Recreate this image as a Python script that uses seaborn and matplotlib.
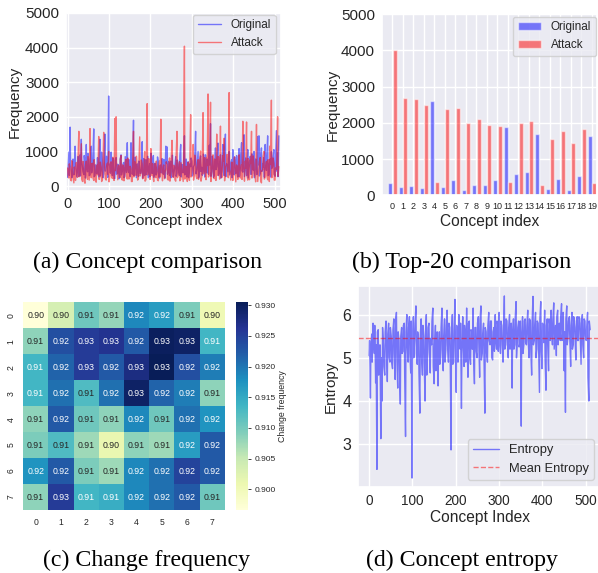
import matplotlib
matplotlib.use("Agg")
import matplotlib.pyplot as plt
import numpy as np
import pandas as pd
import seaborn as sns

# values, one entry for every third concept
original = [
    250, 980, 1700, 420, 300, 520, 1150, 380, 470, 280,
    900, 1350, 520, 330, 640, 1200, 410, 760, 320, 1150,
    560, 1650, 300, 480, 820, 260, 1350, 440, 630, 350,
    1500, 700, 380, 2600, 540, 980, 300, 470, 220, 820,
    360, 560, 240, 900, 430, 680, 280, 520, 1250, 390,
    620, 1250, 340, 1900, 600, 450, 640, 280, 520, 370,
    1280, 450, 300, 760, 520, 240, 650, 950, 360, 880,
    280, 540, 420, 700, 230, 610, 790, 340, 580, 1150,
    1130, 460, 300, 720, 560, 260, 490, 850, 370, 640,
    310, 1200, 620, 380, 1450, 500, 260, 700, 430, 560,
    720, 350, 610, 1580, 480, 1000, 300, 870, 540, 420,
    650, 900, 380, 560, 1180, 1800, 420, 720, 300, 1100,
    560, 1240, 360, 900, 470, 1200, 300, 1500, 640, 410,
    1000, 480, 760, 1050, 320, 620, 880, 260, 1080, 540,
    1250, 400, 1480, 620, 300, 1050, 520, 860, 340, 700,
    1000, 460, 590, 1430, 1450, 360, 1100, 640, 820, 1200,
    450, 1450, 320, 780, 1000, 560, 1050, 280, 1600, 950,
    1450,
]
# the concepts just after those above
original_next = [
    480, 310, 640, 240, 780, 330, 690, 260, 850, 520,
    290, 720, 410, 880, 230, 560, 940, 300, 670, 380,
    820, 270, 610, 350, 530, 760, 290, 980, 240, 700,
    430, 860, 250, 650, 370, 560, 810, 220, 740, 340,
    630, 210, 790, 320, 570, 240, 850, 390, 520, 760,
    270, 680, 440, 300, 830, 240, 590, 720, 360, 510,
    230, 790, 620, 330, 860, 410, 270, 540, 730, 250,
    660, 320, 840, 260, 590, 380, 500, 770, 230, 650,
    340, 710, 560, 240, 890, 310, 620, 280, 750, 430,
    870, 260, 530, 690, 320, 780, 450, 240, 640, 810,
    290, 560, 840, 350, 670, 230, 730, 420, 310, 920,
    260, 540, 780, 340, 610, 280, 860, 250, 690, 470,
    820, 300, 650, 230, 750, 410, 960, 270, 560, 790,
    320, 680, 240, 590, 840, 360, 510, 730, 280, 900,
    440, 650, 270, 810, 520, 230, 700, 340, 930, 460,
    240, 780, 330, 610, 290, 860, 420, 550, 250, 720,
    880, 300, 640, 260, 510, 830, 340, 690, 430, 270,
]
attack = [
    520, 230, 480, 150, 350, 90, 420, 680, 250, 1580,
    300, 1220, 130, 560, 80, 720, 190, 420, 1660, 240,
    660, 160, 470, 110, 620, 1430, 280, 540, 190, 1550,
    400, 170, 660, 1000, 310, 700, 220, 480, 1950, 2000,
    350, 600, 250, 880, 170, 540, 320, 770, 200, 620,
    290, 480, 130, 1580, 700, 310, 560, 220, 1420, 400,
    640, 230, 1000, 180, 2380, 520, 260, 1080, 300, 180,
    640, 240, 430, 150, 720, 1930, 300, 560, 210, 490,
    620, 170, 810, 430, 1320, 250, 560, 140, 1580, 300,
    700, 190, 460, 130, 4040, 520, 240, 690, 160, 2060,
    480, 1200, 350, 620, 210, 760, 430, 1010, 280, 2120,
    500, 240, 830, 2660, 320, 2420, 470, 900, 210, 650,
    1500, 310, 720, 1730, 240, 880, 1380, 420, 640, 300,
    2700, 280, 560, 160, 780, 340, 610, 190, 900, 230,
    620, 1870, 380, 720, 1850, 170, 490, 760, 1580, 300,
    620, 240, 1780, 130, 540, 820, 90, 470, 1000, 260,
    710, 180, 560, 1160, 2480, 330, 640, 170, 480, 2000,
    560,
]
attack_next = [
    310, 640, 180, 730, 260, 550, 160, 380, 820, 270,
    590, 200, 710, 140, 480, 330, 850, 170, 530, 640,
    240, 760, 150, 580, 320, 190, 690, 130, 470, 780,
    210, 560, 340, 120, 650, 270, 830, 160, 440, 710,
    180, 520, 770, 240, 610, 150, 690, 360, 810, 200,
    570, 130, 730, 260, 440, 860, 170, 620, 290, 750,
    210, 540, 140, 680, 320, 790, 190, 450, 650, 130,
    370, 720, 170, 560, 260, 840, 150, 610, 380, 700,
    200, 530, 140, 760, 310, 600, 180, 880, 240, 490,
    150, 670, 350, 810, 200, 570, 130, 440, 730, 260,
    620, 170, 890, 300, 540, 190, 750, 140, 650, 350,
    820, 180, 590, 260, 700, 130, 520, 340, 780, 160,
    430, 850, 200, 610, 290, 720, 150, 560, 910, 240,
    480, 170, 690, 330, 840, 120, 570, 260, 730, 410,
    190, 630, 140, 510, 300, 790, 180, 650, 230, 870,
    360, 120, 590, 270, 710, 160, 440, 840, 200, 530,
    300, 760, 130, 620, 240, 810, 170, 520, 690, 280,
]
entropy = [
    5.05, 4.07, 5.55, 5.8, 5.1, 4.42, 2.42, 5.65, 4.9, 3.13,
    4.0, 5.3, 4.6, 5.85, 4.45, 5.8, 4.9, 5.5, 4.75, 5.9,
    4.5, 6.05, 4.3, 5.4, 3.93, 5.7, 5.15, 5.8, 3.18, 6.0,
    4.9, 5.95, 4.65, 2.22, 5.95, 5.4, 6.2, 4.85, 5.45, 3.72,
    5.9, 4.6, 5.5, 4.0, 6.0, 5.1, 5.8, 4.65, 5.3, 6.15,
    4.4, 5.75, 4.9, 4.35, 5.6, 5.0, 6.15, 4.7, 5.9, 5.2,
    6.1, 4.9, 5.7, 2.87, 6.0, 4.9, 6.35, 4.2, 5.6, 6.0,
    5.2, 3.83, 5.95, 4.8, 5.5, 6.15, 4.55, 5.85, 4.85, 5.6,
    6.15, 4.4, 5.7, 5.0, 5.95, 4.55, 6.2, 5.1, 5.8, 3.72,
    5.6, 4.9, 6.05, 5.3, 5.85, 4.95, 5.7, 6.0, 5.2, 5.75,
    6.05, 5.1, 5.75, 4.9, 6.43, 5.3, 5.85, 5.0, 6.0, 5.35,
    4.3, 5.9, 5.3, 6.3, 5.4, 5.85, 5.35, 3.42, 5.95, 5.3,
    5.9, 5.3, 6.1, 5.0, 5.85, 4.6, 6.42, 5.4, 6.05, 5.2,
    5.8, 4.2, 6.3, 4.75, 5.7, 6.1, 4.25, 5.9, 4.7, 5.75,
    6.1, 5.3, 6.27, 5.6, 5.05, 6.1, 5.7, 5.4, 6.25, 5.6,
    4.7, 3.74, 6.2, 5.5, 5.95, 4.8, 6.05, 5.3, 5.85, 4.95,
    5.95, 5.4, 5.9, 4.85, 6.0, 5.0, 5.85, 5.4, 6.05, 4.0,
    5.65,
]
entropy_next = [
    5.4, 5.2, 4.9, 5.5, 5.75, 5.3, 5.6, 4.6, 5.3, 5.0,
    5.7, 4.8, 5.6, 5.2, 5.55, 5.0, 5.7, 4.9, 5.65, 5.1,
    5.85, 5.0, 5.6, 4.7, 5.5, 5.1, 5.75, 4.6, 5.6, 5.25,
    5.7, 5.1, 5.85, 5.3, 5.0, 5.8, 5.1, 5.6, 4.65, 5.5,
    5.0, 5.75, 4.9, 5.6, 4.6, 5.7, 5.2, 5.45, 5.85, 4.8,
    5.3, 4.7, 5.6, 5.15, 4.85, 5.7, 5.2, 5.5, 4.9, 5.75,
    5.3, 5.8, 5.1, 5.5, 4.85, 5.65, 5.25, 5.75, 4.9, 5.3,
    5.8, 5.1, 5.4, 5.75, 4.9, 5.3, 5.8, 5.0, 5.65, 5.2,
    5.0, 5.7, 5.15, 5.8, 5.35, 5.9, 4.95, 5.55, 5.0, 5.7,
    5.1, 5.75, 5.4, 5.85, 5.0, 5.6, 5.15, 5.4, 5.85, 5.15,
    5.4, 5.85, 5.3, 5.6, 5.2, 5.9, 5.4, 5.7, 5.2, 5.8,
    5.55, 5.2, 5.9, 5.0, 5.7, 5.25, 5.85, 5.5, 5.1, 5.85,
    5.35, 5.75, 5.4, 5.9, 5.2, 5.8, 5.3, 5.75, 5.0, 5.85,
    5.3, 5.9, 5.15, 5.8, 5.35, 5.0, 5.75, 5.3, 5.9, 5.4,
    5.6, 5.9, 5.2, 5.75, 5.95, 5.3, 5.8, 5.95, 5.4, 6.05,
    5.6, 5.9, 5.3, 5.85, 5.45, 5.75, 5.2, 5.95, 5.5, 5.7,
    5.4, 5.95, 5.55, 5.8, 5.3, 5.9, 5.5, 5.7, 4.55, 5.85,
]
mean_entropy = 5.45
top20_original = [350, 240, 260, 210, 2600, 240, 430, 140, 290, 280,
                  410, 1880, 590, 650, 1690, 170, 450, 150, 540, 1640]
top20_attack = [4020, 2690, 2650, 2480, 370, 2370, 2400, 2000, 2100, 1940,
                1920, 370, 1990, 2060, 290, 1560, 1770, 1450, 1830, 350]

change_freq = [
    [.8966, .9035, .9105, .9080, .9185, .9165, .9095, .9005],
    [.9085, .9235, .9255, .9265, .9225, .9300, .9295, .9135],
    [.9135, .9215, .9255, .9225, .9275, .9305, .9235, .9195],
    [.9135, .9205, .9125, .9205, .9295, .9215, .9195, .9085],
    [.9085, .9225, .9105, .9085, .9185, .9105, .9205, .9175],
    [.9095, .9125, .9075, .9012, .9085, .9075, .9165, .9225],
    [.9175, .9225, .9095, .9075, .9185, .9205, .9248, .9225],
    [.9085, .9255, .9135, .9145, .9185, .9205, .9225, .9105],
]

W, H = 598, 573
sns.set_theme(style="darkgrid")
plt.rcParams['font.family'] = ['Liberation Sans', 'DejaVu Sans']

fig = plt.figure(figsize=(W / 100, H / 100), dpi=100)


def px_axes(left, top, right, bottom):
    return fig.add_axes([left / W, 1 - bottom / H, (right - left) / W, (bottom - top) / H])


def px_legend(ax, right, bottom, size):
    ax.legend(loc='lower right', bbox_to_anchor=(right / W, 1 - bottom / H),
              bbox_transform=fig.transFigure, borderaxespad=0, fontsize=size)


def caption(x, y, text):
    fig.text(x / W, 1 - y / H, text, ha='center', va='center', fontsize=17.2,
             family='Liberation Serif', color='black')


def merged(first, second):
    # concept index is 3k for the first list and 3k + 1 for the second
    xs = [3 * k for k in range(len(first))] + [3 * k + 1 for k in range(len(second))]
    table = pd.DataFrame({'x': xs, 'y': first + second})
    return table.sort_values('x')


# (a) line comparison
ax1 = px_axes(66, 13, 280.5, 190.5)
sns.lineplot(data=merged(original, original_next), x='x', y='y', color='blue', alpha=0.5, lw=1,
             label='Original', ax=ax1)
sns.lineplot(data=merged(attack, attack_next), x='x', y='y', color='red', alpha=0.5, lw=1,
             label='Attack', ax=ax1)
ax1.set_xlim(-4, 514)
ax1.set_ylim(-130, 5000)
ax1.set_xticks(range(0, 501, 100))
ax1.set_yticks(range(0, 5001, 1000))
ax1.tick_params(axis='x', labelsize=10.5, length=0, pad=5)
ax1.tick_params(axis='y', labelsize=11, length=0, pad=5)
ax1.set_xlabel('Concept index', fontsize=11, labelpad=2)
ax1.set_ylabel('Frequency', fontsize=11, labelpad=2.5)
px_legend(ax1, 275.7, 54, 8.5)

# (b) top 20 bars
top20 = pd.DataFrame({
    'concept': list(range(20)) * 2,
    'freq': top20_original + top20_attack,
    'kind': ['Original'] * 20 + ['Attack'] * 20,
})
ax2 = px_axes(382, 14, 596.7, 195.3)
sns.barplot(data=top20, x='concept', y='freq', hue='kind', palette=['blue', 'red'],
            alpha=0.5, gap=0.05, saturation=1, ax=ax2)
ax2.xaxis.grid(True)
ax2.set_xlim(-1, 19.45)
ax2.set_ylim(0, 5000)
ax2.set_yticks(range(0, 5001, 1000))
ax2.tick_params(axis='x', labelsize=6.5, length=0, pad=5)
ax2.tick_params(axis='y', labelsize=11, length=0, pad=5)
ax2.set_xlabel('Concept index', fontsize=11.2, labelpad=2)
ax2.set_ylabel('Frequency', fontsize=11, labelpad=1)
px_legend(ax2, 596, 56, 8.5)
ax2.get_legend().set_title(None)

# (c) heatmap
ax3 = px_axes(23, 302.3, 225, 510)
cax = px_axes(236, 302.3, 248, 510)
sns.heatmap(change_freq, annot=True, fmt='.2f', cmap='YlGnBu', vmin=.8966, vmax=.9305, ax=ax3,
            cbar_ax=cax, annot_kws={'size': 6.3}, cbar_kws={'label': 'Change frequency'})
ax3.tick_params(labelsize=6.2, length=0, pad=5.5)
cax.set_yticks([.900, .905, .910, .915, .920, .925, .930])
cax.tick_params(labelsize=6, length=2.5, width=.6, color='.15', pad=2, right=True)
cax.set_ylabel('Change frequency', fontsize=6.3, labelpad=2)

# (d) entropy
ax4 = px_axes(358.3, 286, 601, 486.7)
sns.lineplot(data=merged(entropy, entropy_next), x='x', y='y', color='blue', alpha=0.5, lw=1,
             label='Entropy', ax=ax4)
ax4.axhline(mean_entropy, color='red', alpha=0.5, lw=1, ls='--', label='Mean Entropy')
ax4.set_xlim(-25, 535)
ax4.set_ylim(2.02, 6.66)
ax4.set_xticks(range(0, 501, 100))
ax4.set_yticks([3, 4, 5, 6])
ax4.tick_params(axis='x', labelsize=9.8, length=0, pad=5)
ax4.tick_params(axis='y', labelsize=11.5, length=0, pad=5)
ax4.set_xlabel('Concept Index', fontsize=11.2, labelpad=2)
ax4.set_ylabel('Entropy', fontsize=11, labelpad=3)
px_legend(ax4, 594, 480, 9.3)

caption(147.5, 262, '(a) Concept comparison')
caption(462, 262, '(b) Top-20 comparison')
caption(147, 560, '(c) Change frequency')
caption(461.5, 560, '(d) Concept entropy')

fig.savefig('out.png', dpi=100)
